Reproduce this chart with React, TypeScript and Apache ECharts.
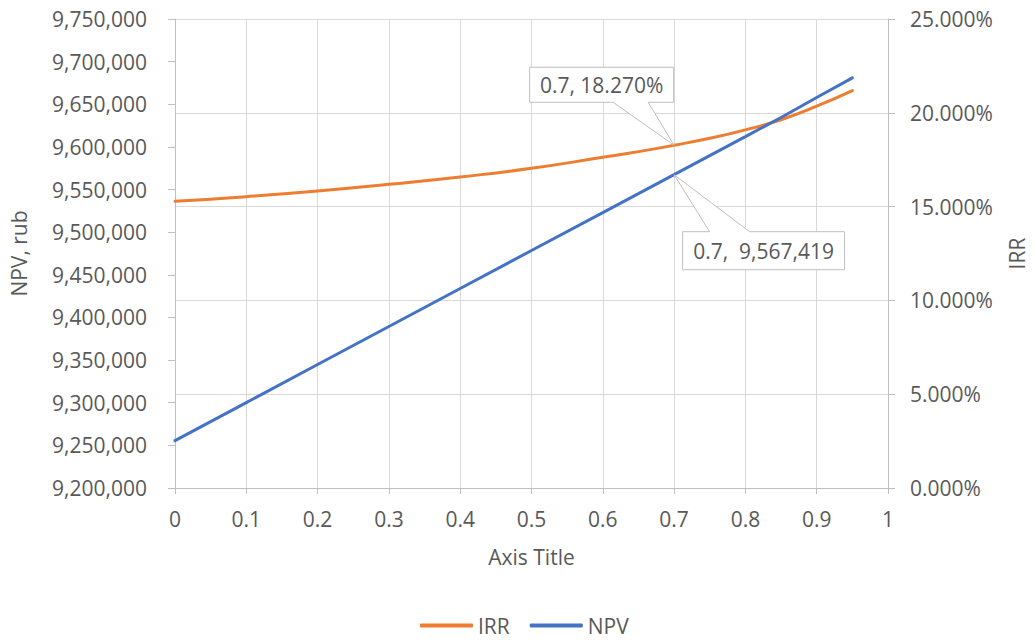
import React, { useEffect, useRef } from "react";
import * as echarts from "echarts";

const xValues = [0, 0.1, 0.2, 0.3, 0.4, 0.5, 0.6, 0.65, 0.7, 0.75, 0.8, 0.85, 0.9, 0.95];
const irrValues = [0.1528, 0.1553, 0.1583, 0.1619, 0.1658, 0.1704, 0.1763, 0.1793, 0.1827, 0.1864, 0.1909, 0.1963, 0.2035, 0.2118];
const npvValues = [9255500, 9300200, 9344800, 9389400, 9434000, 9478500, 9523000, 9545200, 9567419, 9589700, 9612000, 9634500, 9658000, 9681000];
const seriesNames = ["IRR", "NPV"];
const calloutX = 0.7;
const calloutIndex = 8;

const FONT = "'Open Sans', sans-serif";
const TEXT = "#595959";
const AXIS = "#BFBFBF";
const GRID = "#D9D9D9";
const ORANGE = "#ED7D31";
const BLUE = "#4472C4";
const FS = 21;

const fmtNum = (v: number) => Math.round(v).toLocaleString("en-US");
const fmtPct = (v: number) => (v * 100).toFixed(3) + "%";

export default function App() {
  const ref = useRef<HTMLDivElement>(null);
  useEffect(() => {
    if (!ref.current) return;
    const chart = echarts.init(ref.current, undefined, { renderer: "svg" });
    const irrData = xValues.map((x, i) => [x, irrValues[i]]);
    const npvData = xValues.map((x, i) => [x, npvValues[i]]);
    chart.setOption({
      animation: false,
      backgroundColor: "#ffffff",
      textStyle: { fontFamily: FONT },
      grid: { left: 174, right: 146, top: 19, bottom: 153, containLabel: false },
      legend: {
        data: seriesNames,
        left: 420,
        top: 615,
        itemWidth: 53,
        itemHeight: 4,
        itemGap: 20,
        icon: "roundRect",
        padding: 0,
        textStyle: { fontFamily: FONT, fontSize: FS, color: TEXT, lineHeight: 21, padding: [0, 0, 0, 0] },
      },
      xAxis: {
        type: "value",
        min: 0,
        max: 1,
        interval: 0.1,
        name: "Axis Title",
        nameLocation: "middle",
        nameGap: 58,
        nameTextStyle: { fontFamily: FONT, fontSize: FS, color: TEXT },
        axisLine: { show: true, onZero: false, lineStyle: { color: AXIS, width: 1 } },
        axisTick: { show: true, inside: false, length: 6, lineStyle: { color: AXIS } },
        splitLine: { show: true, lineStyle: { color: GRID, width: 1 } },
        axisLabel: {
          fontFamily: FONT,
          fontSize: FS,
          color: TEXT,
          margin: 20,
          formatter: (v: number) => String(Math.round(v * 10) / 10),
        },
      },
      yAxis: [
        {
          type: "value",
          min: 9200000,
          max: 9750000,
          interval: 50000,
          position: "left",
          name: "NPV, rub",
          nameLocation: "middle",
          nameGap: 146,
          nameRotate: 90,
          nameTextStyle: { fontFamily: FONT, fontSize: FS, color: TEXT },
          axisLine: { show: true, lineStyle: { color: AXIS, width: 1 } },
          axisTick: { show: true, inside: false, length: 7, lineStyle: { color: AXIS } },
          splitLine: { show: false },
          axisLabel: { fontFamily: FONT, fontSize: FS, color: TEXT, margin: 28, formatter: fmtNum },
        },
        {
          type: "value",
          min: 0,
          max: 0.25,
          interval: 0.05,
          position: "right",
          name: "IRR",
          nameLocation: "middle",
          nameGap: 118,
          nameRotate: 90,
          nameTextStyle: { fontFamily: FONT, fontSize: FS, color: TEXT },
          axisLine: { show: true, lineStyle: { color: AXIS, width: 1 } },
          axisTick: { show: true, inside: false, length: 7, lineStyle: { color: AXIS } },
          splitLine: { show: true, lineStyle: { color: GRID, width: 1 } },
          axisLabel: { fontFamily: FONT, fontSize: FS, color: TEXT, margin: 22, formatter: fmtPct },
        },
      ],
      series: [
        {
          name: seriesNames[0],
          type: "line",
          yAxisIndex: 1,
          data: irrData,
          smooth: true,
          showSymbol: false,
          symbol: "none",
          color: ORANGE,
          lineStyle: { color: ORANGE, width: 3, cap: "round" },
          z: 3,
        },
        {
          name: seriesNames[1],
          type: "line",
          yAxisIndex: 0,
          data: npvData,
          showSymbol: false,
          symbol: "none",
          color: BLUE,
          lineStyle: { color: BLUE, width: 3, cap: "round" },
          z: 4,
        },
      ],
    });

    const p1 = chart.convertToPixel({ xAxisIndex: 0, yAxisIndex: 1 }, [calloutX, irrValues[calloutIndex]]) as number[];
    const p2 = chart.convertToPixel({ xAxisIndex: 0, yAxisIndex: 0 }, [calloutX, npvValues[calloutIndex]]) as number[];

    const b1 = { l: p1[0] - 144.5, r: p1[0] - 0.5, t: p1[1] - 78, b: p1[1] - 43 };
    const poly1 = [
      [b1.l, b1.t], [b1.r, b1.t], [b1.r, b1.b], [p1[0] - 26, b1.b], [p1[0], p1[1]],
      [p1[0] - 61, b1.b], [b1.l, b1.b],
    ];
    const b2 = { l: p2[0] + 8.5, r: p2[0] + 170.5, t: p2[1] + 57, b: p2[1] + 95 };
    const poly2 = [
      [b2.l, b2.t], [p2[0] + 35.5, b2.t], [p2[0], p2[1]], [p2[0] + 75.5, b2.t],
      [b2.r, b2.t], [b2.r, b2.b], [b2.l, b2.b],
    ];
    const label1 = calloutX + ", " + fmtPct(irrValues[calloutIndex]);
    const label2 = calloutX + ",  " + fmtNum(npvValues[calloutIndex]);
    chart.setOption({
      graphic: [
        { type: "polygon", z: 100, shape: { points: poly1 }, style: { fill: "#fff", stroke: AXIS, lineWidth: 1 } },
        {
          type: "text", z: 101, x: (b1.l + b1.r) / 2, y: (b1.t + b1.b) / 2,
          style: { text: label1, font: `${FS}px ${FONT}`, fill: TEXT, align: "center", verticalAlign: "middle" },
        },
        { type: "polygon", z: 100, shape: { points: poly2 }, style: { fill: "#fff", stroke: AXIS, lineWidth: 1 } },
        {
          type: "text", z: 101, x: (b2.l + b2.r) / 2, y: (b2.t + b2.b) / 2,
          style: { text: label2, font: `${FS}px ${FONT}`, fill: TEXT, align: "center", verticalAlign: "middle" },
        },
      ],
    });
    return () => chart.dispose();
  }, []);
  return (
    <div
      ref={ref}
      style={{ position: "fixed", left: 0, top: 0, width: 1035, height: 641, background: "#fff" }}
    />
  );
}
